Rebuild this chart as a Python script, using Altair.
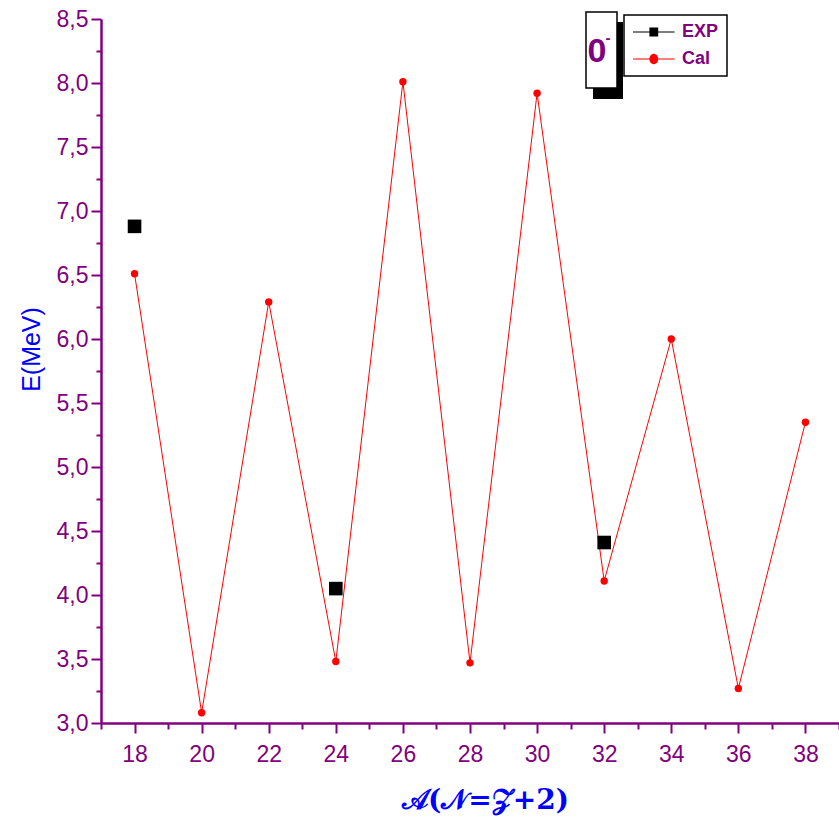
import altair as alt
import pandas as pd

# ---- data ----
A = [18, 20, 22, 24, 26, 28, 30, 32, 34, 36, 38]
E_cal = [6.51, 3.08, 6.29, 3.48, 8.01, 3.47, 7.92, 4.11, 6.00, 3.27, 5.35]
A_exp = [18, 24, 32]
E_exp = [6.88, 4.05, 4.41]
series = ["EXP", "Cal"]
x_major = [18, 20, 22, 24, 26, 28, 30, 32, 34, 36, 38]
x_minor = [17, 19, 21, 23, 25, 27, 29, 31, 33, 35, 37, 39]
y_major = [3.0, 3.5, 4.0, 4.5, 5.0, 5.5, 6.0, 6.5, 7.0, 7.5, 8.0, 8.5]
y_minor = [3.25, 3.75, 4.25, 4.75, 5.25, 5.75, 6.25, 6.75, 7.25, 7.75, 8.25]

PURPLE = "#800080"
BLUE = "#0000ff"
FONT = "Liberation Sans"

cal = pd.DataFrame({"A": A, "E": E_cal})
exp = pd.DataFrame({"A": A_exp, "E": E_exp})

xs = alt.Scale(domain=[17, 39], nice=False, zero=False)
ys = alt.Scale(domain=[3.0, 8.5], nice=False, zero=False)

major_x = alt.Axis(values=x_major, orient="bottom", format="d", grid=False,
                   tickSize=10, tickWidth=2, tickColor=PURPLE,
                   domainWidth=2.5, domainColor=PURPLE,
                   labelColor=PURPLE, labelFont=FONT, labelFontSize=23, labelPadding=10,
                   labelFlush=False, labelOverlap=False,
                   title="𝒜(𝒩=𝒵+2)", titleColor=BLUE, titleFont="DejaVu Serif",
                   titleFontSize=28, titleFontStyle="normal", titleFontWeight="bold",
                   titleX=384, titleY=77, titleBaseline="middle")
minor_x = alt.Axis(values=x_minor, orient="bottom", grid=False, domain=False, labels=False,
                   tickSize=6, tickWidth=2, tickColor=PURPLE, title=None)
major_y = alt.Axis(values=y_major, orient="left", grid=False,
                   labelExpr="replace(format(datum.value, '.1f'), '.', ',')",
                   tickSize=10, tickWidth=2, tickColor=PURPLE,
                   domainWidth=2.5, domainColor=PURPLE,
                   labelColor=PURPLE, labelFont=FONT, labelFontSize=23, labelPadding=3,
                   labelFlush=False, labelOverlap=False,
                   title="E(MeV)", titleColor=BLUE, titleFont=FONT, titleFontSize=25,
                   titleFontWeight="normal", titleX=-70, titleY=330, titleBaseline="middle")
minor_y = alt.Axis(values=y_minor, orient="left", grid=False, domain=False, labels=False,
                   tickSize=5, tickWidth=2, tickColor=PURPLE, title=None)

line = alt.Chart(cal).mark_line(color="red", strokeWidth=1).encode(
    x=alt.X("A:Q", scale=xs, axis=major_x),
    y=alt.Y("E:Q", scale=ys, axis=major_y),
)
pts = alt.Chart(cal).mark_circle(color="red", size=55, opacity=1).encode(
    x=alt.X("A:Q", scale=xs, axis=minor_x),
    y=alt.Y("E:Q", scale=ys, axis=minor_y),
)
sq = alt.Chart(exp).mark_square(color="black", size=185, opacity=1).encode(
    x=alt.X("A:Q", scale=xs, axis=None),
    y=alt.Y("E:Q", scale=ys, axis=None),
)

# legend (line + marker symbols as custom paths)
P_EXP = "M-1,-0.07H4.2V0.07H-1ZM1.05,-0.55H2.15V0.55H1.05Z"
P_CAL = "M-1,-0.07H4.2V0.07H-1ZM2.15,0A0.55,0.65 0 1,1 1.05,0A0.55,0.65 0 1,1 2.15,0Z"
leg_def = alt.Legend(title=None, orient="none", legendX=523, legendY=-4)
leg = alt.Chart(pd.DataFrame({"series": series})).transform_filter("false").mark_point(
    filled=True, opacity=1).encode(
    shape=alt.Shape("series:N", scale=alt.Scale(domain=series, range=[P_EXP, P_CAL]), legend=leg_def),
    color=alt.Color("series:N", scale=alt.Scale(domain=series, range=["black", "red"]), legend=leg_def),
)

one = alt.Data(values=[{}])
shadow = alt.Chart(one).mark_rect(color="black").encode(
    x=alt.value(492), x2=alt.value(522), y=alt.value(3), y2=alt.value(80))
box = alt.Chart(one).mark_rect(fill="white", stroke="black", strokeWidth=1.5).encode(
    x=alt.value(485), x2=alt.value(516), y=alt.value(-7), y2=alt.value(69))
txt0 = alt.Chart(one).mark_text(text="0", font=FONT, fontSize=34, fontWeight="bold",
                                color=PURPLE, align="center", baseline="middle").encode(
    x=alt.value(496), y=alt.value(33))
txtm = alt.Chart(one).mark_text(text="-", font=FONT, fontSize=15, fontWeight="bold",
                                color=PURPLE, align="center", baseline="middle").encode(
    x=alt.value(507), y=alt.value(19))

chart = alt.layer(line, pts, sq, leg, shadow, box, txt0, txtm).resolve_axis(
    x="independent", y="independent"
).properties(
    width=738, height=704,
    autosize=alt.AutoSizeParams(type="none"),
    padding={"left": 101, "top": 19, "right": 0, "bottom": 105},
).configure_view(stroke=None).configure_legend(
    padding=8, rowPadding=9, symbolSize=256, labelOffset=32, symbolStrokeWidth=0,
    symbolOpacity=1, labelFont=FONT, labelFontSize=18, labelFontWeight="bold",
    labelColor=PURPLE, fillColor="white", strokeColor="black", strokeWidth=1.5,
)

chart.save("out.html", embed_options={"renderer": "svg", "actions": False})
